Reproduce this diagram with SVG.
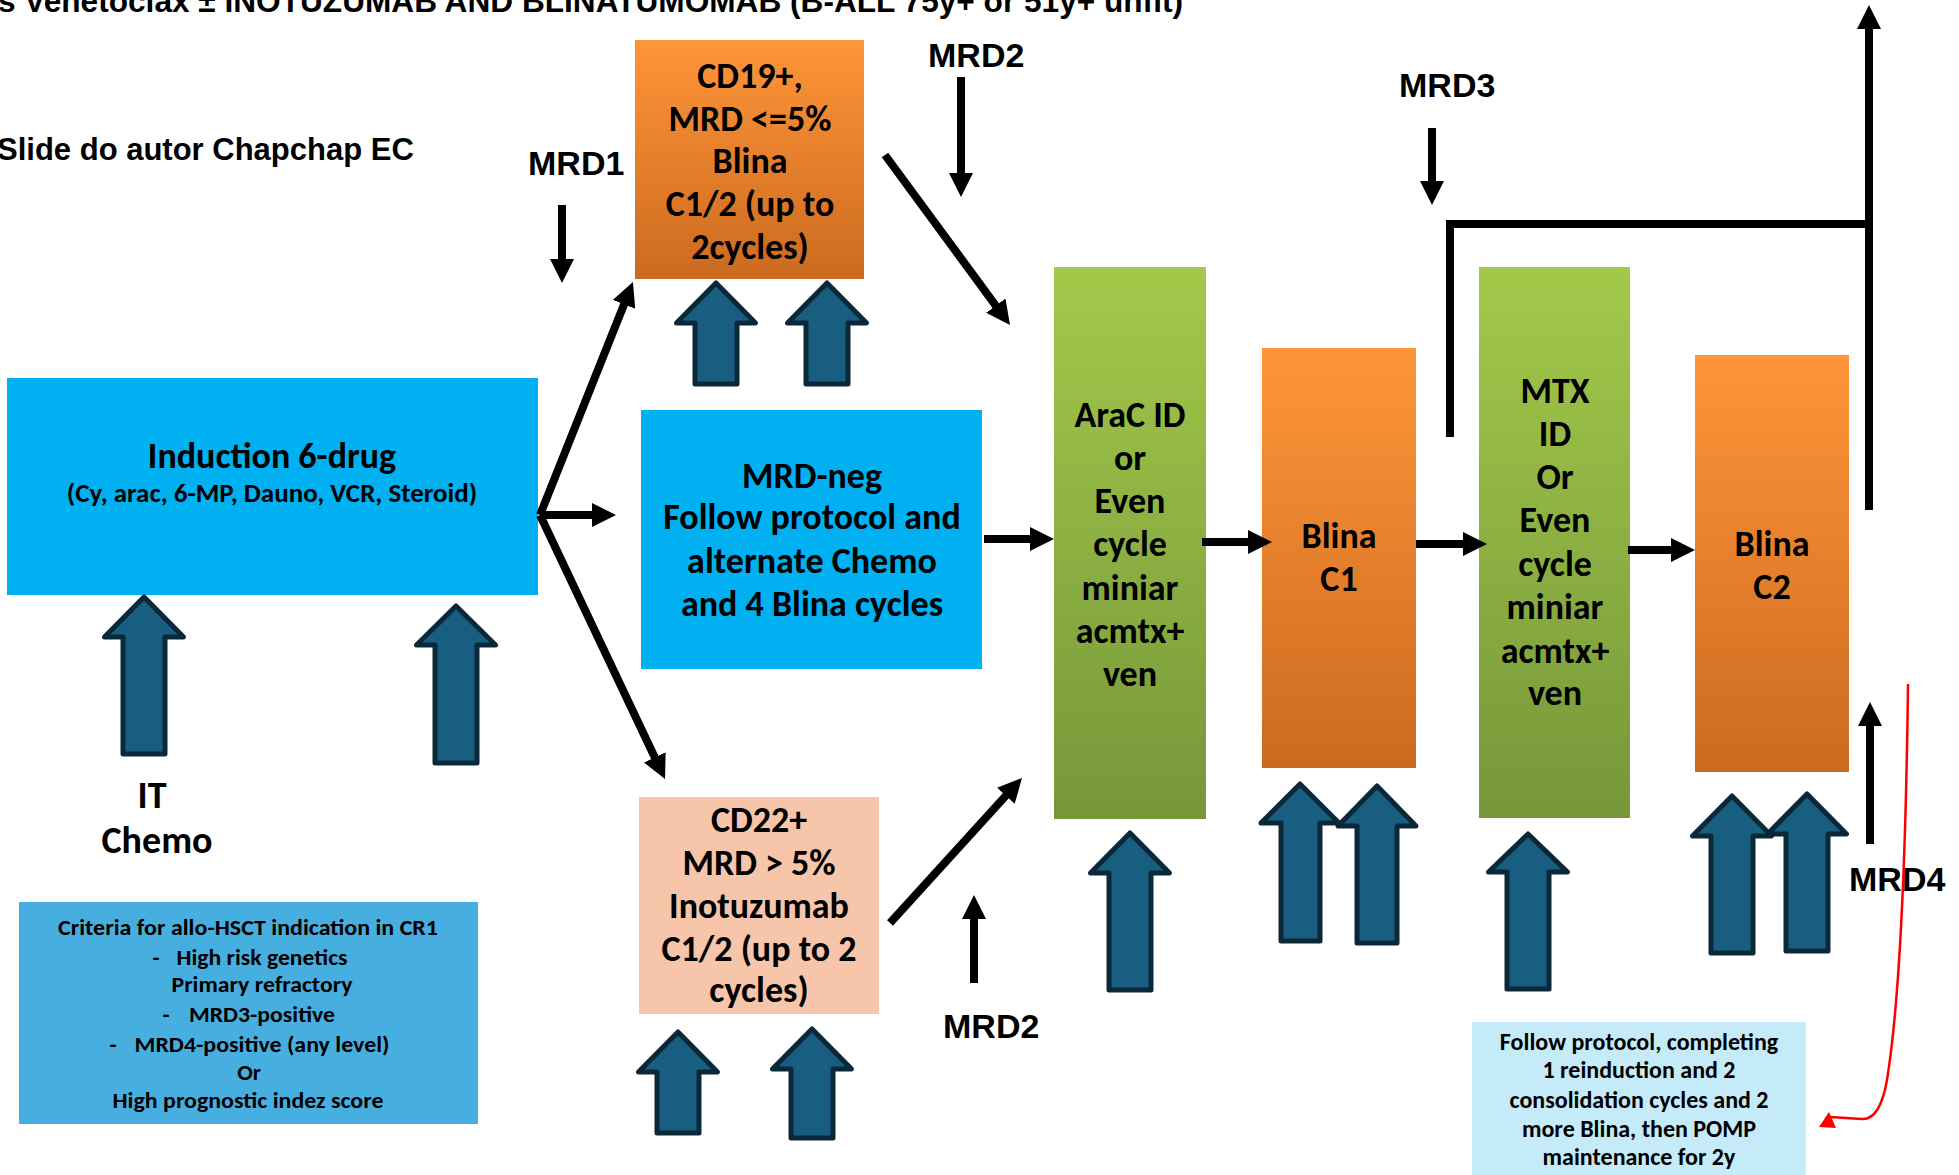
<svg xmlns="http://www.w3.org/2000/svg" width="1959" height="1175" viewBox="0 0 1959 1175">
<defs>
<linearGradient id="gOr" x1="0" y1="0" x2="0" y2="1"><stop offset="0" stop-color="#FF9539"/><stop offset="1" stop-color="#CB6A1F"/></linearGradient>
<linearGradient id="gGr" x1="0" y1="0" x2="0" y2="1"><stop offset="0" stop-color="#A2C94A"/><stop offset="1" stop-color="#76973A"/></linearGradient>
<marker id="ah" viewBox="0 0 24 24" refX="12" refY="12" markerWidth="24" markerHeight="24" markerUnits="userSpaceOnUse" orient="auto"><path d="M0,0 L24,12 L0,24 Z" fill="#000"/></marker>
<style>
.bt{font-family:Carlito,Lato,"Noto Sans",sans-serif;font-weight:bold;fill:#000;text-anchor:middle}
.lb{font-family:"Liberation Sans",Arial,sans-serif;font-weight:bold;fill:#000}
.con{stroke:#000;stroke-width:8;fill:none}
.ba{fill:#175E80;stroke:#0B2838;stroke-width:5;stroke-linejoin:round}
</style>
</defs>
<rect width="1959" height="1175" fill="#fff"/>
<text class="lb" x="-2" y="12" font-size="31" textLength="1185" lengthAdjust="spacingAndGlyphs">s Venetoclax ± INOTUZUMAB AND BLINATUMOMAB (B-ALL 75y+ or 51y+ unfit)</text>
<text class="lb" x="-3" y="160" font-size="31">Slide do autor Chapchap EC</text>

<g id="induction">
<rect x="7" y="378" width="531" height="217" fill="#00B0F0"/>
<text class="bt" x="272" y="468" font-size="36">Induction 6-drug</text>
<text class="bt" x="272" y="502" font-size="27">(Cy, arac, 6-MP, Dauno, VCR, Steroid)</text>
</g>
<g id="it-chemo">
<path class="ba" d="M144,597 L183.5,637 L165,637 L165,754 L123,754 L123,637 L104.5,637 Z"/>
<path class="ba" d="M456,606 L495.5,645 L477,645 L477,763 L435,763 L435,645 L416.5,645 Z"/>
<text class="bt" x="152" y="808" font-size="38">IT</text>
<text class="bt" x="157" y="853" font-size="38">Chemo</text>
</g>
<g id="criteria">
<rect x="19" y="902" width="459" height="222" fill="#47AFDF"/>
<g class="bt" font-size="23">
<text x="248" y="935" textLength="380" lengthAdjust="spacingAndGlyphs">Criteria for allo-HSCT indication in CR1</text>
<text x="156" y="965">-</text><text x="262" y="965" textLength="171" lengthAdjust="spacingAndGlyphs">High risk genetics</text>
<text x="262" y="992" textLength="181" lengthAdjust="spacingAndGlyphs">Primary refractory</text>
<text x="166" y="1022">-</text><text x="262" y="1022" textLength="146" lengthAdjust="spacingAndGlyphs">MRD3-positive</text>
<text x="113" y="1052">-</text><text x="262" y="1052" textLength="255" lengthAdjust="spacingAndGlyphs">MRD4-positive (any level)</text>
<text x="249" y="1080">Or</text>
<text x="248" y="1108" textLength="271" lengthAdjust="spacingAndGlyphs">High prognostic indez score</text>
</g>
</g>

<g id="cd19">
<rect x="635" y="40" width="229" height="239" fill="url(#gOr)"/>
<g class="bt" font-size="36">
<text x="750" y="88">CD19+,</text>
<text x="750" y="131">MRD &lt;=5%</text>
<text x="750" y="173">Blina</text>
<text x="750" y="216">C1/2 (up to</text>
<text x="750" y="259">2cycles)</text>
</g>
<path class="ba" d="M716,283 L755.5,323 L737,323 L737,384 L695,384 L695,323 L676.5,323 Z"/>
<path class="ba" d="M827,283 L866.5,323 L848,323 L848,384 L806,384 L806,323 L787.5,323 Z"/>
</g>

<g id="mrdneg">
<rect x="641" y="410" width="341" height="259" fill="#00B0F0"/>
<g class="bt" font-size="36">
<text x="812" y="488">MRD-neg</text>
<text x="812" y="529">Follow protocol and</text>
<text x="812" y="573">alternate Chemo</text>
<text x="812" y="616">and 4 Blina cycles</text>
</g>
</g>

<g id="cd22">
<rect x="639" y="797" width="240" height="217" fill="#F6C5AA"/>
<g class="bt" font-size="36">
<text x="759" y="832">CD22+</text>
<text x="759" y="875">MRD &gt; 5%</text>
<text x="759" y="918">Inotuzumab</text>
<text x="759" y="961">C1/2 (up to 2</text>
<text x="759" y="1002">cycles)</text>
</g>
<path class="ba" d="M678,1032 L717.5,1072 L699,1072 L699,1133 L657,1133 L657,1072 L638.5,1072 Z"/>
<path class="ba" d="M812,1029 L851.5,1069 L833,1069 L833,1138 L791,1138 L791,1069 L772.5,1069 Z"/>
</g>

<g id="arac">
<rect x="1054" y="267" width="152" height="552" fill="url(#gGr)"/>
<g class="bt" font-size="36">
<text x="1130" y="427">AraC ID</text>
<text x="1130" y="470">or</text>
<text x="1130" y="513">Even</text>
<text x="1130" y="556">cycle</text>
<text x="1130" y="600">miniar</text>
<text x="1130" y="643">acmtx+</text>
<text x="1130" y="686">ven</text>
</g>
<path class="ba" d="M1130,833 L1169.5,873 L1151,873 L1151,990 L1109,990 L1109,873 L1090.5,873 Z"/>
</g>

<g id="blina-c1">
<rect x="1262" y="348" width="154" height="420" fill="url(#gOr)"/>
<text class="bt" x="1339" y="548" font-size="36">Blina</text>
<text class="bt" x="1339" y="591" font-size="36">C1</text>
<path class="ba" d="M1300,784 L1339,823 L1320,823 L1320,941 L1281,941 L1281,823 L1261,823 Z"/>
<path class="ba" d="M1377,786 L1416,826 L1397,826 L1397,943 L1357,943 L1357,826 L1338,826 Z"/>
</g>

<g id="mtx">
<rect x="1479" y="267" width="151" height="551" fill="url(#gGr)"/>
<g class="bt" font-size="36">
<text x="1555" y="403">MTX</text>
<text x="1555" y="446">ID</text>
<text x="1555" y="489">Or</text>
<text x="1555" y="532">Even</text>
<text x="1555" y="576">cycle</text>
<text x="1555" y="619">miniar</text>
<text x="1555" y="663">acmtx+</text>
<text x="1555" y="705">ven</text>
</g>
<path class="ba" d="M1528,834 L1567.5,872 L1549,872 L1549,989 L1507,989 L1507,872 L1488.5,872 Z"/>
</g>

<g id="blina-c2">
<rect x="1695" y="355" width="154" height="417" fill="url(#gOr)"/>
<text class="bt" x="1772" y="556" font-size="36">Blina</text>
<text class="bt" x="1772" y="599" font-size="36">C2</text>
<path class="ba" d="M1732,796 L1771.5,836 L1753,836 L1753,953 L1711,953 L1711,836 L1692.5,836 Z"/>
<path class="ba" d="M1807,794 L1846.5,834 L1828,834 L1828,951 L1786,951 L1786,834 L1767.5,834 Z"/>
</g>

<g id="follow">
<rect x="1472" y="1022" width="334" height="160" fill="#C5EBF9"/>
<g class="bt" font-size="24">
<text x="1639" y="1050">Follow protocol, completing</text>
<text x="1639" y="1078">1 reinduction and 2</text>
<text x="1639" y="1108">consolidation cycles and 2</text>
<text x="1639" y="1137">more Blina, then POMP</text>
<text x="1639" y="1165">maintenance for 2y</text>
</g>
</g>

<g id="mrd-labels">
<text class="lb" x="528" y="175" font-size="34">MRD1</text>
<text class="lb" x="928" y="67" font-size="34">MRD2</text>
<text class="lb" x="943" y="1038" font-size="34">MRD2</text>
<text class="lb" x="1399" y="97" font-size="34">MRD3</text>
<text class="lb" x="1849" y="891" font-size="34">MRD4</text>
</g>

<g id="connectors">
<line class="con" x1="540" y1="515" x2="628.5" y2="293.2" marker-end="url(#ah)"/>
<line class="con" x1="540" y1="515" x2="604" y2="515" marker-end="url(#ah)"/>
<line class="con" x1="540" y1="515" x2="659.9" y2="768.2" marker-end="url(#ah)"/>
<line class="con" x1="885" y1="155" x2="1002.9" y2="315.3" marker-end="url(#ah)"/>
<line class="con" x1="984" y1="539" x2="1042" y2="539" marker-end="url(#ah)"/>
<line class="con" x1="890" y1="923" x2="1013.9" y2="786.9" marker-end="url(#ah)"/>
<line class="con" x1="1202" y1="542" x2="1260" y2="542" marker-end="url(#ah)"/>
<line class="con" x1="1416" y1="544" x2="1475" y2="544" marker-end="url(#ah)"/>
<line class="con" x1="1628" y1="550" x2="1683" y2="550" marker-end="url(#ah)"/>
<line class="con" x1="562" y1="205" x2="562" y2="271" marker-end="url(#ah)"/>
<line class="con" x1="961" y1="77" x2="961" y2="185" marker-end="url(#ah)"/>
<line class="con" x1="974" y1="983" x2="974" y2="907" marker-end="url(#ah)"/>
<line class="con" x1="1432" y1="128" x2="1432" y2="193" marker-end="url(#ah)"/>
<line class="con" x1="1870" y1="844" x2="1870" y2="714" marker-end="url(#ah)"/>
<path class="con" d="M1450,437 V224 H1869"/>
<line class="con" x1="1869" y1="510" x2="1869" y2="17" marker-end="url(#ah)"/>
<path d="M1908,684 C1906,850 1900,1000 1887,1080 Q1880,1120 1862,1119 L1830,1117" fill="none" stroke="#FF0000" stroke-width="2.5"/>
<polygon points="1819,1127 1829,1112 1836,1128" fill="#FF0000"/>
</g>
</svg>
